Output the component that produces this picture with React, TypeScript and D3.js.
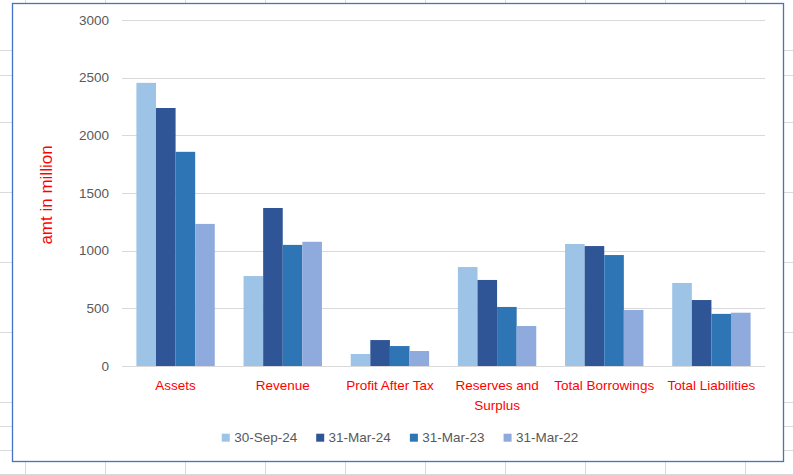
import React, { useEffect, useRef } from "react";
import * as d3 from "d3";

const categories: string[][] = [
  ["Assets"],
  ["Revenue"],
  ["Profit After Tax"],
  ["Reserves and", "Surplus"],
  ["Total Borrowings"],
  ["Total Liabilities"],
];
const seriesNames = ["30-Sep-24", "31-Mar-24", "31-Mar-23", "31-Mar-22"];
const seriesColors = ["#9DC3E6", "#2F5597", "#2E75B6", "#8FAADC"];
const sep24 = [2455, 780, 104, 858, 1058, 720];
const mar24 = [2237, 1370, 225, 746, 1040, 572];
const mar23 = [1857, 1050, 173, 512, 962, 452];
const mar22 = [1232, 1077, 130, 347, 486, 462];
const yTicks = [0, 500, 1000, 1500, 2000, 2500, 3000];
const yTitle = "amt in million";

const sheetCols = [25, 105, 185, 265, 345, 425, 505, 585, 665, 745];
const sheetRows = [50, 75, 122, 192, 262, 332, 402, 426, 450, 474];

const FONT = "'Liberation Sans', Arial, sans-serif";

export default function App() {
  const ref = useRef<SVGSVGElement | null>(null);

  useEffect(() => {
    const svg = d3.select(ref.current);
    svg.selectAll("*").remove();
    const W = 793, H = 475;

    // spreadsheet background
    const bg = svg.append("g");
    bg.append("rect").attr("width", W).attr("height", H).attr("fill", "#fff");
    sheetCols.forEach((x) =>
      bg.append("line").attr("x1", x + 0.5).attr("x2", x + 0.5).attr("y1", 0).attr("y2", H)
        .attr("stroke", "#DADADA").attr("stroke-width", 1)
    );
    sheetRows.forEach((y) =>
      bg.append("line").attr("x1", 0).attr("x2", W).attr("y1", y + 0.5).attr("y2", y + 0.5)
        .attr("stroke", "#DADADA").attr("stroke-width", 1)
    );

    // chart frame
    svg.append("rect").attr("x", 12.5).attr("y", 3.5).attr("width", 771).attr("height", 458)
      .attr("fill", "#fff").attr("stroke", "#4472C4").attr("stroke-width", 1.3);

    const x0 = 122, x1 = 765;
    const y = d3.scaleLinear().domain([0, 3000]).range([366, 20]);
    const xCat = d3.scaleBand<number>().domain(d3.range(categories.length)).range([x0, x1]).padding(0);
    const step = xCat.bandwidth();
    const gap = step * 0.2687;
    const xSer = d3.scaleBand<number>().domain(d3.range(seriesNames.length)).range([gap / 2, step - gap / 2]).padding(0);

    // gridlines
    const grid = svg.append("g");
    yTicks.forEach((t) => {
      grid.append("line").attr("x1", x0).attr("x2", x1)
        .attr("y1", Math.round(y(t)) + 0.5).attr("y2", Math.round(y(t)) + 0.5)
        .attr("stroke", "#D9D9D9").attr("stroke-width", 1);
      grid.append("text").attr("x", 109).attr("y", y(t) + 4.8)
        .attr("text-anchor", "end").attr("font-family", FONT).attr("font-size", 13.5)
        .attr("fill", "#595959").text(String(t));
    });

    // bars
    const allSeries = [sep24, mar24, mar23, mar22];
    allSeries.forEach((vals, si) => {
      svg.append("g").selectAll("rect").data(vals).join("rect")
        .attr("x", (_d, i) => (xCat(i) as number) + (xSer(si) as number))
        .attr("width", xSer.bandwidth())
        .attr("y", (d) => y(d))
        .attr("height", (d) => y(0) - y(d))
        .attr("fill", seriesColors[si]);
    });

    svg.append("line").attr("x1", x0).attr("x2", x1).attr("y1", Math.round(y(0)) + 0.5).attr("y2", Math.round(y(0)) + 0.5)
      .attr("stroke", "#D9D9D9").attr("stroke-width", 1);

    // category labels
    categories.forEach((lines, i) => {
      const cx = (xCat(i) as number) + step / 2;
      lines.forEach((ln, li) => {
        svg.append("text").attr("x", cx).attr("y", 390 + li * 19.5)
          .attr("text-anchor", "middle").attr("font-family", FONT).attr("font-size", 13.5)
          .attr("fill", "#FF0000").text(ln);
      });
    });

    // y title
    svg.append("text").attr("transform", `translate(52,195) rotate(-90)`)
      .attr("text-anchor", "middle").attr("font-family", FONT).attr("font-size", 17)
      .attr("fill", "#FF0000").text(yTitle);

    // legend
    const lg = svg.append("g");
    const items: { g: any; w: number }[] = [];
    seriesNames.forEach((name, si) => {
      const g = lg.append("g");
      g.append("rect").attr("x", 0).attr("y", -8).attr("width", 8).attr("height", 8).attr("fill", seriesColors[si]);
      const t = g.append("text").attr("x", 12.4).attr("y", 0.4).attr("font-family", FONT).attr("font-size", 13.5)
        .attr("fill", "#595959").text(name);
      const tw = (t.node() as SVGTextElement).getComputedTextLength();
      items.push({ g, w: 12.4 + tw });
    });
    const itemGap = 19;
    const total = d3.sum(items, (d) => d.w) + itemGap * (items.length - 1);
    let cx = 400 - total / 2;
    items.forEach((it) => {
      it.g.attr("transform", `translate(${cx},441.7)`);
      cx += it.w + itemGap;
    });
  }, []);

  return (
    <svg ref={ref} width={793} height={475} style={{ position: "absolute", left: 0, top: 0, display: "block" }} />
  );
}
